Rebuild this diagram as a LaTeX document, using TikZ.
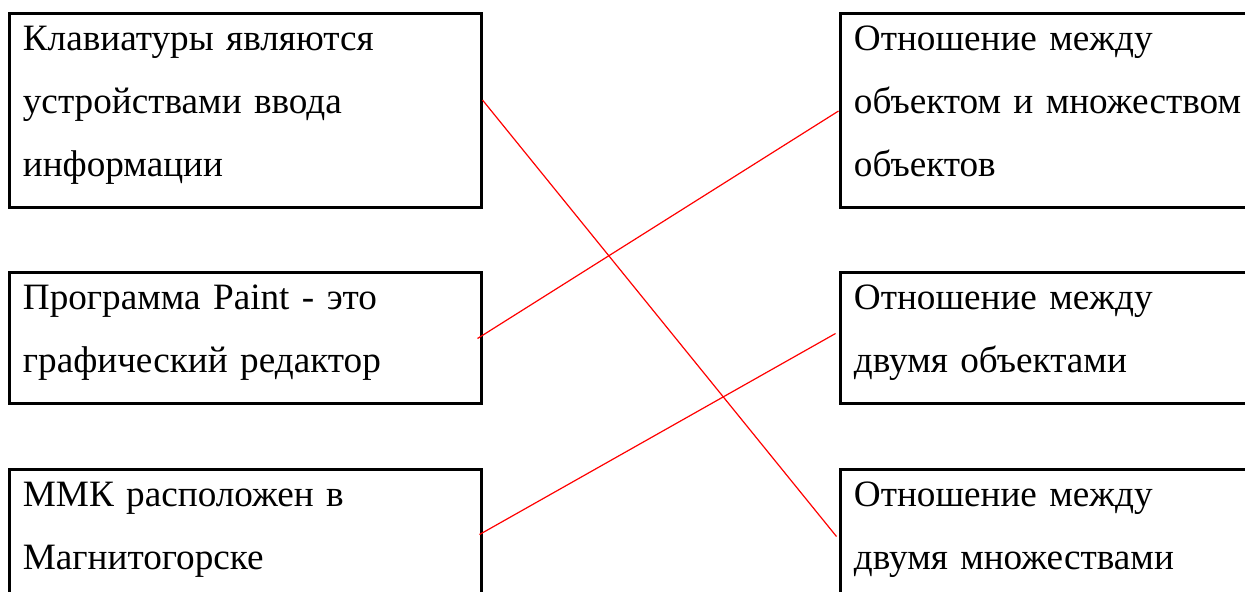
\documentclass[tikz,border=0pt]{standalone}
\usepackage{fontspec}
\setmainfont{Liberation Serif}
\usetikzlibrary{calc}

\begin{document}
\begin{tikzpicture}[x=0.5pt,y=-0.5pt,
  box/.style={draw,line width=1.5pt,inner sep=0pt},
  txt/.style={anchor=base west,inner sep=0pt,align=left,
    font=\fontsize{18.6}{31.5}\selectfont},
  link/.style={red,line width=0.6pt}]
\useasboundingbox (0,0) rectangle (1245,591);

% left column
\node[box,minimum width=236pt,minimum height=97pt] (kl) at (245,110) {};
\node[box,minimum width=236pt,minimum height=65.5pt] (pr) at (245,337.5) {};
\node[box,minimum width=236pt,minimum height=65.5pt] (mmk) at (245,534.5) {};

% right column
\node[box,minimum width=207.5pt,minimum height=97pt] (om) at (1047.5,110) {};
\node[box,minimum width=207.5pt,minimum height=65.5pt] (do) at (1047.5,337.5) {};
\node[box,minimum width=207.5pt,minimum height=65.5pt] (dm) at (1047.5,534.5) {};

\node[txt,text width=225pt] (klt) at ($(kl.north west)+(15,39)$) {Клавиатуры являются\\устройствами ввода\\информации};
\node[txt,text width=225pt] (prt) at ($(pr.north west)+(15,39)$) {Программа Paint - это\\графический редактор};
\node[txt,text width=225pt] (mmkt) at ($(mmk.north west)+(15,39)$) {ММК расположен в\\Магнитогорске};

\node[txt,text width=200pt] (omt) at ($(om.north west)+(15,39)$) {Отношение между\\объектом и множеством\\объектов};
\node[txt,text width=200pt] (dot) at ($(do.north west)+(15,39)$) {Отношение между\\двумя объектами};
\node[txt,text width=200pt] (dmt) at ($(dm.north west)+(15,39)$) {Отношение между\\двумя множествами};

\draw[link] ($(kl.east)+(0,-10)$) -- ($(dm.west)+(-2,2)$);
\draw[link] ($(pr.east)+(-5,1)$) -- ($(om.west)+(0,1)$);
\draw[link] ($(mmk.east)+(-3,0)$) -- ($(do.west)+(-3,-4)$);
\end{tikzpicture}
\end{document}
